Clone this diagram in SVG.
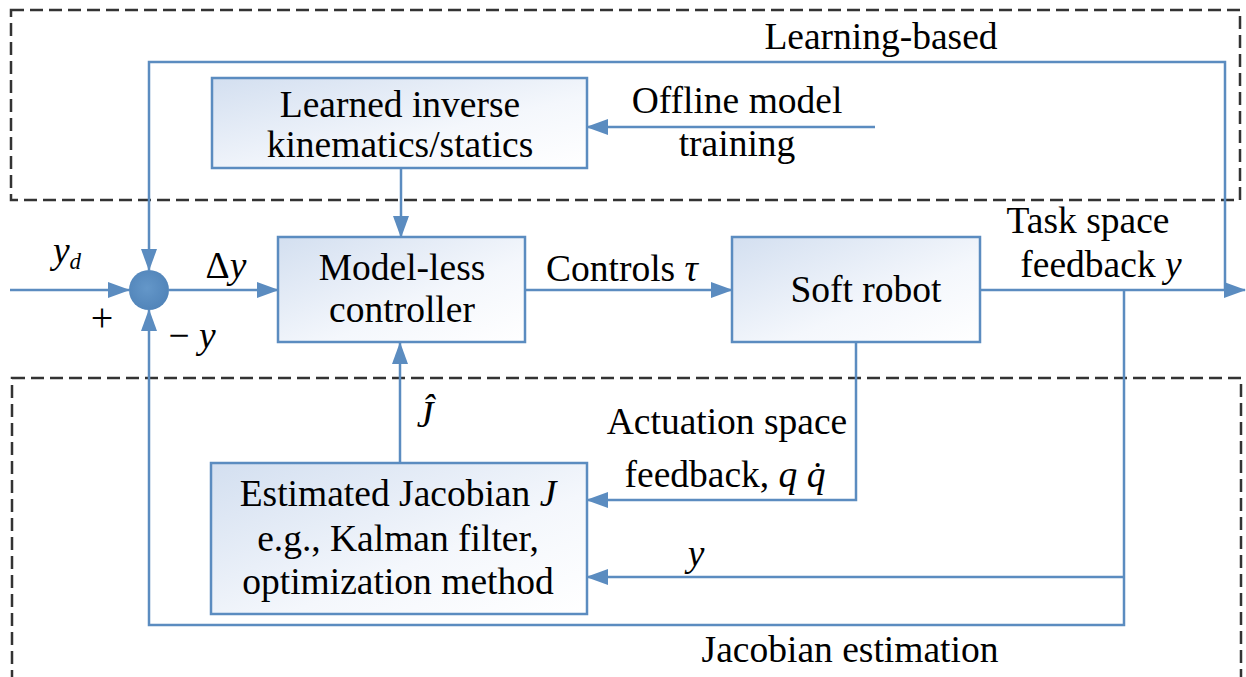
<svg xmlns="http://www.w3.org/2000/svg" width="1246" height="677" viewBox="0 0 1246 677">
<defs>
<linearGradient id="g" x1="0" y1="0" x2="1" y2="1">
<stop offset="0" stop-color="#d3dff0"/>
<stop offset="0.6" stop-color="#f4f7fc"/>
<stop offset="1" stop-color="#ffffff"/>
</linearGradient>
<radialGradient id="cg" cx="0.45" cy="0.45" r="0.6">
<stop offset="0" stop-color="#6497c9"/>
<stop offset="1" stop-color="#5083b8"/>
</radialGradient>
<marker id="ah" viewBox="0 0 22 16" refX="21" refY="8" markerWidth="22" markerHeight="16" markerUnits="userSpaceOnUse" orient="auto">
<path d="M0,0 L22,8 L0,16 z" fill="#5b8cc0"/>
</marker>
</defs>
<rect width="1246" height="677" fill="#fff"/>
<g id="regions" stroke="#333" stroke-width="2.5" fill="none" stroke-dasharray="13 6">
<rect x="11" y="10" width="1229" height="190"/>
<rect x="12" y="378" width="1229" height="320"/>
</g>
<text x="881" y="49" font-family="Liberation Serif" font-size="37.5" text-anchor="middle">Learning-based</text>
<text x="850" y="662" font-family="Liberation Serif" font-size="37.5" text-anchor="middle">Jacobian estimation</text>
<g id="connectors" stroke="#5b8cc0" stroke-width="2.5" fill="none" marker-end="url(#ah)">
<polyline points="1225,290 1225,62 149,62 149,270"/>
<line x1="10" y1="290" x2="129" y2="290"/>
<line x1="169" y1="290" x2="278" y2="290"/>
<line x1="401" y1="168" x2="401" y2="237"/>
<line x1="875" y1="127" x2="587" y2="127"/>
<line x1="525" y1="290" x2="732" y2="290"/>
<line x1="980" y1="290" x2="1245" y2="290"/>
<polyline points="1124,290 1124,625 149,625 149,310"/>
<line x1="1124" y1="577" x2="587" y2="577"/>
<polyline points="856,342 856,500 587,500"/>
<line x1="400" y1="463" x2="400" y2="343"/>
</g>
<g id="labels">
<text x="67" y="263" font-family="Liberation Serif" font-size="37.5" text-anchor="middle"><tspan font-style="italic">y</tspan><tspan font-style="italic" font-size="23" dy="6">d</tspan></text>
<text x="102" y="331" font-family="Liberation Serif" font-size="40" text-anchor="middle">+</text>
<text x="192" y="348" font-family="Liberation Serif" font-size="37.5" text-anchor="middle">− <tspan font-style="italic">y</tspan></text>
<text x="226" y="278" font-family="Liberation Serif" font-size="37.5" text-anchor="middle">Δ<tspan font-style="italic">y</tspan></text>
<text x="622" y="281" font-family="Liberation Serif" font-size="37.5" text-anchor="middle">Controls <tspan font-style="italic">τ</tspan></text>
<text x="1088" y="233" font-family="Liberation Serif" font-size="37.5" text-anchor="middle">Task space</text>
<text x="1101" y="277" font-family="Liberation Serif" font-size="37.5" text-anchor="middle">feedback <tspan font-style="italic">y</tspan></text>
<text x="425" y="427" font-family="Liberation Serif" font-size="37.5" font-style="italic" text-anchor="middle">Ĵ</text>
<text x="727" y="434" font-family="Liberation Serif" font-size="37.5" text-anchor="middle">Actuation space</text>
<text x="725" y="487" font-family="Liberation Serif" font-size="37.5" text-anchor="middle">feedback, <tspan font-style="italic">q</tspan>  <tspan font-style="italic">q̇</tspan></text>
<text x="696" y="566" font-family="Liberation Serif" font-size="37.5" font-style="italic" text-anchor="middle">y</text>
<text x="737" y="113" font-family="Liberation Serif" font-size="37.5" text-anchor="middle">Offline model</text>
<text x="737" y="156" font-family="Liberation Serif" font-size="37.5" text-anchor="middle">training</text>
</g>
<g id="sum">
<circle cx="149" cy="290" r="20" fill="url(#cg)"/>
</g>
<g id="learned">
<rect x="212" y="78" width="375" height="90" stroke="#5b8cc0" stroke-width="2.5" fill="url(#g)"/>
<text x="400" y="117" font-family="Liberation Serif" font-size="37.5" text-anchor="middle">Learned inverse</text>
<text x="400" y="157" font-family="Liberation Serif" font-size="37.5" text-anchor="middle">kinematics/statics</text>
</g>
<g id="controller">
<rect x="278" y="237" width="247" height="105" stroke="#5b8cc0" stroke-width="2.5" fill="url(#g)"/>
<text x="402" y="280" font-family="Liberation Serif" font-size="37.5" text-anchor="middle">Model-less</text>
<text x="402" y="322" font-family="Liberation Serif" font-size="37.5" text-anchor="middle">controller</text>
</g>
<g id="robot">
<rect x="732" y="237" width="248" height="105" stroke="#5b8cc0" stroke-width="2.5" fill="url(#g)"/>
<text x="866" y="302" font-family="Liberation Serif" font-size="37.5" text-anchor="middle">Soft robot</text>
</g>
<g id="estimator">
<rect x="211" y="463" width="376" height="151" stroke="#5b8cc0" stroke-width="2.5" fill="url(#g)"/>
<text x="398" y="506" font-family="Liberation Serif" font-size="37.5" text-anchor="middle">Estimated Jacobian <tspan font-style="italic">J</tspan></text>
<text x="398" y="551" font-family="Liberation Serif" font-size="37.5" text-anchor="middle">e.g., Kalman filter,</text>
<text x="398" y="594" font-family="Liberation Serif" font-size="37.5" text-anchor="middle">optimization method</text>
</g>
</svg>
